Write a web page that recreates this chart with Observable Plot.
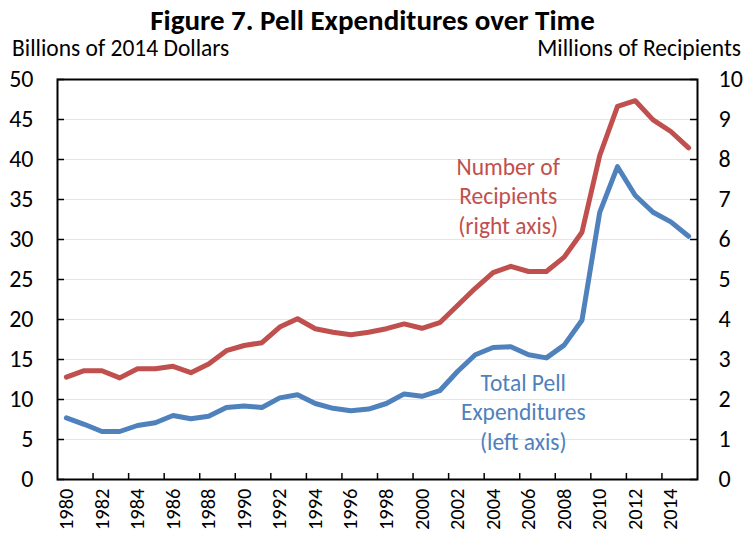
<!DOCTYPE html>
<html><head><meta charset="utf-8">
<script src="https://cdn.jsdelivr.net/npm/d3@7"></script>
<script src="https://cdn.jsdelivr.net/npm/@observablehq/plot@0.6"></script>
<style>
body{margin:0;background:#fff;font-family:Carlito,Lato,sans-serif;color:#000;}
#wrap{width:745px;height:536px;position:relative;overflow:hidden;}
#title{height:36px;line-height:40px;text-align:center;font-weight:bold;font-size:29px;white-space:nowrap;}
#axt{height:24px;position:relative;font-size:23.5px;line-height:24px;white-space:nowrap;}
#axt .l{position:absolute;left:12px;top:0;}
#axt .r{position:absolute;right:4px;top:0;}
</style></head>
<body><div id="wrap">
<div id="title">Figure 7. Pell Expenditures over Time</div>
<div id="axt"><span class="l">Billions of 2014 Dollars</span><span class="r">Millions of Recipients</span></div>
<div id="chart"></div>
</div>
<script>
const years = [1980,1981,1982,1983,1984,1985,1986,1987,1988,1989,1990,1991,1992,1993,1994,1995,1996,1997,1998,1999,2000,2001,2002,2003,2004,2005,2006,2007,2008,2009,2010,2011,2012,2013,2014,2015];
const spending = [7.7,6.9,6.0,6.0,6.75,7.1,8.0,7.6,7.9,9.0,9.2,9.0,10.2,10.6,9.5,8.9,8.6,8.8,9.5,10.7,10.4,11.1,13.5,15.6,16.5,16.6,15.6,15.2,16.8,19.9,33.4,39.1,35.5,33.4,32.2,30.4];
const recipients = [2.56,2.72,2.72,2.54,2.77,2.77,2.83,2.67,2.89,3.22,3.35,3.42,3.81,4.02,3.77,3.68,3.62,3.68,3.77,3.89,3.78,3.92,4.35,4.78,5.17,5.33,5.2,5.2,5.56,6.18,8.1,9.33,9.47,8.99,8.7,8.29];
const xTickLabels = [1980,1982,1984,1986,1988,1990,1992,1994,1996,1998,2000,2002,2004,2006,2008,2010,2012,2014];
const leftTicks = [0,5,10,15,20,25,30,35,40,45,50];
const rightTicks = [0,1,2,3,4,5,6,7,8,9,10];
const ratio = 5; // left units per right unit

const W = 745, H = 476, mL = 57, mR = 48, mT = 19, mB = 57;
const innerW = W - mL - mR, innerH = H - mT - mB;
const rows = years.map((y, i) => ({year: y, spend: spending[i], recip: recipients[i]}));
const boundaries = xTickLabels.slice(0, -1).map(y => y + 1.5);

const chart = Plot.plot({
  width: W, height: H,
  marginLeft: mL, marginRight: mR, marginTop: mT, marginBottom: mB,
  style: {fontFamily: "Carlito, Lato, sans-serif", fontSize: "20px", color: "#000", background: "#fff"},
  x: {type: "linear", domain: [years[0] - 0.5, years[years.length - 1] + 0.5], axis: null},
  y: {domain: [0, 50], axis: null},
  marks: [
    Plot.gridY(leftTicks, {stroke: "#e6e6e6", strokeOpacity: 1, strokeWidth: 1}),
    Plot.axisX(xTickLabels, {tickSize: 0, tickRotate: -90, tickPadding: 9, fontSize: 20.5, tickFormat: d => String(d), label: null}),
    Plot.axisY(leftTicks, {anchor: "left", tickSize: 0, tickPadding: 24, fontSize: 24, label: null}),
    Plot.axisY(rightTicks.map(v => v * ratio), {anchor: "right", tickSize: 0, tickPadding: 21, fontSize: 24, textAnchor: "start", tickFormat: d => String(d / ratio), label: null}),
    Plot.tickX(boundaries, {x: d => d, insetTop: innerH - 6, stroke: "#000", strokeWidth: 1.5}),
    Plot.tickY(leftTicks, {y: d => d, insetRight: innerW - 7, stroke: "#000", strokeWidth: 1.5}),
    Plot.tickY(leftTicks, {y: d => d, insetLeft: innerW - 7, stroke: "#000", strokeWidth: 1.5}),
    Plot.line(rows, {x: "year", y: d => d.recip * ratio, stroke: "#C0504D", strokeWidth: 5, strokeLinejoin: "round", strokeLinecap: "round"}),
    Plot.line(rows, {x: "year", y: "spend", stroke: "#4F81BD", strokeWidth: 5, strokeLinejoin: "round", strokeLinecap: "round"}),
    Plot.text(["Number of\nRecipients\n(right axis)"], {x: () => 2004.85, y: () => 35.6, fill: "#C0504D", fontSize: 23.5, lineHeight: 1.255, textAnchor: "middle"}),
    Plot.text(["Total Pell\nExpenditures\n(left axis)"], {x: () => 2005.7, y: () => 8.6, fill: "#4F81BD", fontSize: 23.5, lineHeight: 1.255, textAnchor: "middle"}),
    Plot.frame({stroke: "#000", strokeWidth: 2})
  ]
});
document.getElementById("chart").appendChild(chart);
</script>
</body></html>
